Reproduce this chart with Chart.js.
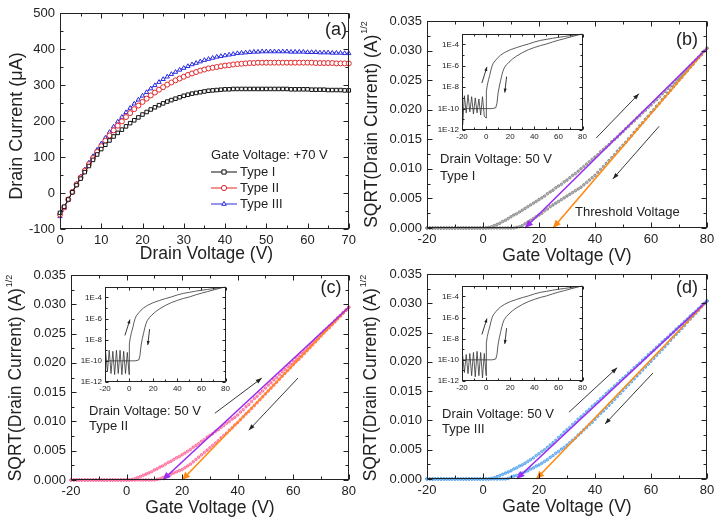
<!DOCTYPE html>
<html>
<head>
<meta charset="utf-8">
<script src="https://cdn.jsdelivr.net/npm/chart.js@4.4.0/dist/chart.umd.min.js"></script>
<style>
html, body { margin: 0; padding: 0; background: #fff; }
#wrap { position: relative; width: 719px; height: 522px; overflow: hidden; }
canvas { position: absolute; }
</style>
</head>
<body>
<div id="wrap">
  <canvas id="pa" width="360" height="270" style="left:0;top:0"></canvas>
  <canvas id="pb" width="359" height="270" style="left:360px;top:0"></canvas>
  <canvas id="pc" width="360" height="262" style="left:0;top:260px"></canvas>
  <canvas id="pd" width="359" height="262" style="left:360px;top:260px"></canvas>
  <canvas id="ib" width="163" height="120" style="left:426px;top:26px"></canvas>
  <canvas id="ic" width="163" height="119" style="left:69px;top:279px"></canvas>
  <canvas id="id" width="163" height="119" style="left:426px;top:278px"></canvas>
</div>
<script>
const FONT = '"Liberation Sans", Arial, sans-serif';
const INK = '#222';

// ---- (a) output curves, gate voltage +70 V ----
const drainV = [0,1,2,3,4,5,6,7,8,9,10,11,12,13,14,15,16,17,18,19,20,21,22,23,24,25,26,27,28,29,30,
  31,32,33,34,35,36,37,38,39,40,41,42,43,44,45,46,47,48,49,50,51,52,53,54,55,56,57,58,59,60,
  61,62,63,64,65,66,67,68,69,70];
const typeI = [-55,-38,-18,2,22,40,58,75,92,107,122,134,146,157,167,176,185,194,202,210,218,
  225,232,238,244,249,254,258,262,266,270,273,276,278,280,282,284,285,286,287,288,
  288,289,289,289,289,289,289,289,289,289,289,289,289,289,289,288,288,288,288,288,
  287,287,287,287,286,286,286,286,285,285];
const typeII = [-60,-40,-18,3,24,43,62,80,97,114,130,145,160,174,187,199,211,222,233,243,253,
  262,271,279,287,294,301,307,313,318,323,328,332,336,340,343,346,348,350,352,354,
  355,357,358,359,360,361,361,362,362,362,362,362,362,362,362,362,362,362,362,362,
  362,361,361,361,361,361,360,360,360,360];
const typeIII = [-65,-42,-19,3,25,45,65,84,102,120,137,153,169,184,198,211,224,236,248,259,270,
  280,290,299,308,316,323,330,336,342,347,352,357,361,365,369,372,375,378,380,382,
  384,386,388,389,390,391,392,392,393,393,393,393,393,393,393,392,392,392,392,391,
  391,391,390,390,390,389,389,389,388,388];

// ---- (b)-(d) transfer curves, SQRT(Id) vs gate voltage ----
const gateV = [-20,-19,-18,-17,-16,-15,-14,-13,-12,-11,-10,-9,-8,-7,-6,-5,-4,-3,-2,-1,0,
  1,2,3,4,5,6,7,8,9,10,11,12,13,14,15,16,17,18,19,20,21,22,23,24,25,26,27,28,29,30,
  31,32,33,34,35,36,37,38,39,40,41,42,43,44,45,46,47,48,49,50,51,52,53,54,55,56,57,58,59,60,
  61,62,63,64,65,66,67,68,69,70,71,72,73,74,75,76,77,78,79,80];
const fwdB = [0,0,0,0,0,0,0,0,0,0,0,0,0,0,0,0,0,0,0,0,0,
  0.0000,0.0001,0.0002,0.0004,0.0006,0.0008,0.0011,0.0013,0.0016,0.0019,
  0.0022,0.0024,0.0027,0.0030,0.0033,0.0036,0.0039,0.0042,0.0045,0.0048,
  0.0051,0.0054,0.0058,0.0061,0.0064,0.0068,0.0071,0.0074,0.0078,0.0081,
  0.0085,0.0089,0.0092,0.0096,0.0100,0.0104,0.0108,0.0112,0.0116,0.0120,
  0.0124,0.0129,0.0133,0.0137,0.0141,0.0146,0.0150,0.0154,0.0159,0.0163,
  0.0168,0.0172,0.0177,0.0181,0.0186,0.0190,0.0195,0.0199,0.0204,0.0208,
  0.0213,0.0217,0.0222,0.0227,0.0231,0.0236,0.0240,0.0245,0.0250,0.0254,
  0.0259,0.0264,0.0269,0.0274,0.0279,0.0284,0.0289,0.0294,0.0299,0.0304];
const revB = [0,0,0,0,0,0,0,0,0,0,0,0,0,0,0,0,0,0,0,0,0,
  0,0,0,0,0,0,0,0,0,0,
  0,0.0001,0.0002,0.0004,0.0007,0.0010,0.0013,0.0016,0.0019,0.0022,
  0.0025,0.0029,0.0032,0.0036,0.0039,0.0042,0.0045,0.0048,0.0051,0.0054,
  0.0057,0.0060,0.0063,0.0066,0.0069,0.0073,0.0077,0.0081,0.0085,0.0089,
  0.0094,0.0099,0.0104,0.0109,0.0114,0.0119,0.0124,0.0130,0.0135,0.0140,
  0.0145,0.0151,0.0156,0.0162,0.0167,0.0173,0.0178,0.0184,0.0189,0.0195,
  0.0200,0.0206,0.0211,0.0217,0.0222,0.0228,0.0233,0.0239,0.0244,0.0250,
  0.0255,0.0261,0.0266,0.0272,0.0277,0.0283,0.0288,0.0293,0.0299,0.0304];
const fwdC = [0,0,0,0,0,0,0,0,0,0,0,0,0,0,0,0,0,0,0,0,0,
  0,0.0001,0.0002,0.0004,0.0006,0.0008,0.0010,0.0012,0.0014,0.0017,
  0.0019,0.0022,0.0024,0.0027,0.0030,0.0032,0.0035,0.0038,0.0040,0.0043,
  0.0046,0.0049,0.0052,0.0056,0.0059,0.0062,0.0066,0.0069,0.0073,0.0076,
  0.0079,0.0083,0.0086,0.0090,0.0093,0.0097,0.0100,0.0104,0.0107,0.0111,
  0.0116,0.0120,0.0125,0.0129,0.0134,0.0139,0.0143,0.0148,0.0152,0.0157,
  0.0162,0.0166,0.0171,0.0175,0.0180,0.0185,0.0189,0.0194,0.0198,0.0203,
  0.0208,0.0212,0.0217,0.0221,0.0226,0.0231,0.0235,0.0240,0.0244,0.0249,
  0.0254,0.0258,0.0263,0.0267,0.0272,0.0277,0.0281,0.0286,0.0290,0.0295];
const revC = [0,0,0,0,0,0,0,0,0,0,0,0,0,0,0,0,0,0,0,0,0,
  0,0,0,0,0,0,0,0,0,0,
  0.0001,0.0002,0.0004,0.0006,0.0008,0.0010,0.0012,0.0014,0.0016,0.0018,
  0.0021,0.0024,0.0027,0.0031,0.0035,0.0039,0.0043,0.0047,0.0051,0.0055,
  0.0059,0.0063,0.0067,0.0072,0.0076,0.0080,0.0085,0.0089,0.0094,0.0098,
  0.0103,0.0108,0.0113,0.0117,0.0122,0.0127,0.0132,0.0137,0.0142,0.0147,
  0.0152,0.0157,0.0162,0.0167,0.0172,0.0177,0.0182,0.0187,0.0192,0.0197,
  0.0202,0.0206,0.0211,0.0216,0.0221,0.0226,0.0231,0.0236,0.0241,0.0246,
  0.0251,0.0256,0.0260,0.0265,0.0270,0.0275,0.0280,0.0285,0.0290,0.0295];
const fwdD = [0,0,0,0,0,0,0,0,0,0,0,0,0,0,0,0,0,0,0,0,0,
  0,0,0.0001,0.0002,0.0004,0.0006,0.0008,0.0010,0.0012,0.0014,
  0.0017,0.0019,0.0022,0.0024,0.0027,0.0030,0.0033,0.0036,0.0040,0.0043,
  0.0047,0.0050,0.0054,0.0058,0.0062,0.0066,0.0071,0.0075,0.0080,0.0084,
  0.0088,0.0093,0.0097,0.0102,0.0106,0.0110,0.0115,0.0119,0.0124,0.0128,
  0.0132,0.0137,0.0141,0.0146,0.0150,0.0154,0.0159,0.0163,0.0168,0.0172,
  0.0176,0.0181,0.0185,0.0190,0.0194,0.0198,0.0203,0.0207,0.0212,0.0216,
  0.0220,0.0225,0.0229,0.0234,0.0238,0.0242,0.0247,0.0251,0.0256,0.0260,
  0.0264,0.0269,0.0273,0.0278,0.0282,0.0286,0.0291,0.0295,0.0300,0.0304];
const revD = [0,0,0,0,0,0,0,0,0,0,0,0,0,0,0,0,0,0,0,0,0,
  0,0,0,0,0,0,0,0,0.0001,0.0003,
  0.0005,0.0006,0.0008,0.0010,0.0012,0.0014,0.0017,0.0019,0.0022,0.0024,
  0.0027,0.0030,0.0033,0.0037,0.0040,0.0044,0.0047,0.0051,0.0054,0.0058,
  0.0062,0.0066,0.0070,0.0075,0.0079,0.0084,0.0088,0.0093,0.0097,0.0102,
  0.0107,0.0112,0.0116,0.0121,0.0126,0.0131,0.0136,0.0141,0.0146,0.0151,
  0.0156,0.0161,0.0166,0.0171,0.0176,0.0181,0.0186,0.0191,0.0196,0.0201,
  0.0206,0.0211,0.0216,0.0221,0.0226,0.0231,0.0237,0.0242,0.0247,0.0252,
  0.0257,0.0262,0.0268,0.0273,0.0278,0.0283,0.0288,0.0294,0.0299,0.0304];

// linear fits used for the threshold voltage: [gate V, sqrt(Id)] end points
const fitUpB = [[80, 0.0304], [15, 0]];
const fitDownB = [[80, 0.0304], [25, 0]];
const fitUpC = [[80, 0.0295], [13, 0]];
const fitDownC = [[80, 0.0295], [20, 0]];
const fitUpD = [[80, 0.0304], [12, 0]];
const fitDownD = [[80, 0.0303], [19, 0]];

// sweep direction arrows: [x1, y1, x2, y2] in data units
const sweepArrowsB = [[40.4, 0.0152, 55.7, 0.0227], [62.9, 0.0172, 46.4, 0.0083]];
const sweepArrowsC = [[31.8, 0.0114, 48.7, 0.0174], [61.7, 0.0174, 44.0, 0.0085]];
const sweepArrowsD = [[30.7, 0.0114, 47.9, 0.0190], [60.7, 0.0181, 43.6, 0.0094]];

// ---- insets: log(Id) vs gate voltage ----
const noiseV = [-20,-19.5,-18,-16.5,-15,-13.5,-12,-10.5,-9,-7.5,-6,-4.5,-3,-1.5,0];
const noiseB = [1e-10,3.2e-12,1.6e-9,4e-11,2e-9,5e-11,1.3e-9,3.2e-11,1e-9,4e-11,8e-10,2.5e-11,1.3e-9,2e-11,1.3e-11];
const noiseC = [1e-10,6.3e-10,1e-11,1e-9,6.3e-12,8e-10,5e-12,1e-9,6.3e-12,1e-9,5e-12,8e-10,6.3e-12,6.3e-10,5e-12];
const noiseD = [1e-10,2.5e-10,6.3e-12,3.2e-10,5e-12,4e-10,3.2e-12,5e-10,2.5e-12,6.3e-10,3.2e-12,5e-10,2e-12,4e-10,3.2e-12];
const riseV = [0.2,1,2,3,4,5,6,8,10,12,15,20,25,30,35,40,45,50,55,60,65,70,75,80];
const riseI = [4e-9,1.6e-8,5e-8,1.3e-7,4e-7,1e-6,1.8e-6,3.5e-6,6.3e-6,1e-5,1.7e-5,3.2e-5,
  5e-5,7.6e-5,1.1e-4,1.7e-4,2.4e-4,3e-4,3.8e-4,4.7e-4,5.6e-4,6.8e-4,8.1e-4,1e-3];
const backV = [-20,0,5,8,9,10,11,12,13,14,15,17,19,22,25,30,35,40,45,50,55,60,65,70,75,80];
const backI = [1e-10,1e-10,1e-10,1.2e-10,3.2e-10,3.2e-9,1.3e-8,4e-8,1.3e-7,3.2e-7,6.3e-7,
  1.3e-6,2.2e-6,4.5e-6,7.9e-6,1.7e-5,3.2e-5,5.2e-5,7.9e-5,1.1e-4,1.7e-4,2.5e-4,3.5e-4,5e-4,7.1e-4,1e-3];
const insetArrows = [[-3.5, 2.5e-8, 0.7, 8e-7], [17, 1e-7, 15.5, 3.2e-9]];

function arrowHead(ctx, x1, y1, x2, y2, len, half, color) {
  const a = Math.atan2(y2 - y1, x2 - x1);
  const bx = x2 - len * Math.cos(a), by = y2 - len * Math.sin(a);
  ctx.fillStyle = color;
  ctx.beginPath();
  ctx.moveTo(x2, y2);
  ctx.lineTo(bx + half * Math.sin(a), by - half * Math.cos(a));
  ctx.lineTo(bx - half * Math.sin(a), by + half * Math.cos(a));
  ctx.closePath();
  ctx.fill();
}

// tick marks list: [value, length]
function marks(from, to, step, every, big, small) {
  const out = [];
  let i = 0;
  for (let v = from; v <= to + step * 1e-6; v += step, i++) out.push([v, i % every === 0 ? big : small]);
  return out;
}

function drawMarker(ctx, style, x, y, r) {
  ctx.beginPath();
  if (style === 'rect') ctx.rect(x - r * 0.8, y - r * 0.8, r * 1.6, r * 1.6);
  else if (style === 'triangle') {
    ctx.moveTo(x, y - r); ctx.lineTo(x - r * 0.87, y + r * 0.5); ctx.lineTo(x + r * 0.87, y + r * 0.5); ctx.closePath();
  } else ctx.arc(x, y, r, 0, Math.PI * 2);
  ctx.fill(); ctx.stroke();
}

const decor = {
  id: 'decor',
  afterDatasetsDraw(chart) {
    const o = chart.options.plugins.decor;
    const ctx = chart.ctx, xs = chart.scales.x, ys = chart.scales.y;
    ctx.save();
    chart.data.datasets.forEach((ds, i) => {
      if (!ds.arrowHead) return;
      const pts = chart.getDatasetMeta(i).data;
      const p = pts[pts.length - 1], q = pts[0];
      arrowHead(ctx, q.x, q.y, p.x, p.y, 8, 3.5, ds.borderColor);
    });
    (o.arrows || []).forEach(r => {
      const x1 = xs.getPixelForValue(r[0]), y1 = ys.getPixelForValue(r[1]);
      const x2 = xs.getPixelForValue(r[2]), y2 = ys.getPixelForValue(r[3]);
      ctx.strokeStyle = INK; ctx.lineWidth = 0.9;
      ctx.beginPath(); ctx.moveTo(x1, y1); ctx.lineTo(x2, y2); ctx.stroke();
      arrowHead(ctx, x1, y1, x2, y2, o.headLen || 6, o.headHalf || 2.2, INK);
    });
    ctx.restore();
  },
  afterDraw(chart) {
    const o = chart.options.plugins.decor;
    const ctx = chart.ctx, a = chart.chartArea, xs = chart.scales.x, ys = chart.scales.y;
    ctx.save();
    // box and inward ticks on all four sides
    const L = Math.round(a.left) + 0.5, R = Math.round(a.right) - 0.5;
    const T = Math.round(a.top) + 0.5, B = Math.round(a.bottom) - 0.5;
    ctx.strokeStyle = INK; ctx.lineWidth = 1;
    ctx.strokeRect(L, T, R - L, B - T);
    ctx.beginPath();
    o.xMarks.forEach(([v, len]) => {
      const p = Math.round(xs.getPixelForValue(v)) + 0.5;
      ctx.moveTo(p, B); ctx.lineTo(p, B - len);
      ctx.moveTo(p, T); ctx.lineTo(p, T + len);
    });
    o.yMarks.forEach(([v, len]) => {
      const p = Math.round(ys.getPixelForValue(v)) + 0.5;
      ctx.moveTo(L, p); ctx.lineTo(L + len, p);
      ctx.moveTo(R, p); ctx.lineTo(R - len, p);
    });
    ctx.stroke();
    // texts
    ctx.fillStyle = INK;
    ctx.textBaseline = 'middle';
    (o.texts || []).forEach(t => {
      ctx.font = t.size + 'px ' + FONT;
      ctx.textAlign = t.align || 'left';
      ctx.fillText(t.t, t.x, t.y);
    });
    if (o.yTitle) {
      const yt = o.yTitle;
      ctx.save();
      ctx.translate(yt.x, yt.y);
      ctx.rotate(-Math.PI / 2);
      ctx.font = yt.size + 'px ' + FONT;
      const w1 = ctx.measureText(yt.t).width;
      let w2 = 0;
      if (yt.sup) { ctx.font = '9px ' + FONT; w2 = ctx.measureText(yt.sup).width + 1; }
      const start = -(w1 + w2) / 2;
      ctx.textAlign = 'left';
      ctx.font = yt.size + 'px ' + FONT;
      ctx.fillText(yt.t, start, 0);
      if (yt.sup) { ctx.font = '9px ' + FONT; ctx.fillText(yt.sup, start + w1 + 1, -7); }
      ctx.restore();
    }
    if (o.legend) {
      const lg = o.legend;
      chart.data.datasets.forEach((ds, i) => {
        const y = lg.y + i * lg.gap;
        ctx.strokeStyle = ds.borderColor; ctx.fillStyle = '#fff'; ctx.lineWidth = 1;
        ctx.beginPath(); ctx.moveTo(lg.x, y); ctx.lineTo(lg.x + 26, y); ctx.stroke();
        drawMarker(ctx, ds.pointStyle, lg.x + 13, y, 2.6);
        ctx.fillStyle = INK; ctx.font = '13px ' + FONT; ctx.textAlign = 'left';
        ctx.fillText(ds.label, lg.x + 29, y);
      });
    }
    ctx.restore();
  }
};
Chart.register(decor);

function axisOpts(min, max, step, size, extent, pad, fmt) {
  return {
    type: 'linear', min: min, max: max,
    grid: { display: false, drawTicks: false }, border: { display: false },
    ticks: { stepSize: step, padding: pad, color: INK, font: { family: FONT, size: size },
      maxRotation: 0, autoSkip: false, callback: fmt || (v => String(v)) },
    afterFit: s => { if (s.isHorizontal()) s.height = extent; else s.width = extent; }
  };
}

function panelOptions(p) {
  return {
    responsive: false, animation: false, devicePixelRatio: 1,
    layout: { padding: { top: p.top, right: p.right, left: 0, bottom: 0 } },
    plugins: { legend: { display: false }, tooltip: { enabled: false }, decor: p.decor },
    scales: { x: p.x, y: p.y }
  };
}

const pts = (xs, ys) => xs.map((v, i) => ({ x: v, y: ys[i] }));
const fmt3 = v => v.toFixed(3);

// ---- panel (a) ----
function outputSet(label, vals, color, style) {
  return { label: label, data: pts(drainV, vals), showLine: true, borderColor: color, borderWidth: 1,
    pointStyle: style, pointRadius: 2.5, pointBorderWidth: 1, pointBackgroundColor: '#fff',
    pointBorderColor: color, clip: false };
}
new Chart(document.getElementById('pa'), {
  type: 'scatter',
  data: { datasets: [
    outputSet('Type I', typeI, '#111', 'rect'),
    outputSet('Type II', typeII, '#e3262a', 'circle'),
    outputSet('Type III', typeIII, '#2a2ae0', 'triangle')
  ] },
  options: panelOptions({
    top: 13, right: 7,
    x: axisOpts(0, 70, 10, 13, 41, 4),
    y: axisOpts(-100, 500, 100, 13, 60, 5),
    decor: {
      xMarks: marks(0, 70, 5, 2, 5, 3), yMarks: marks(-100, 500, 50, 2, 5, 3),
      texts: [
        { t: '(a)', x: 336, y: 30, size: 18, align: 'center' },
        { t: 'Drain Voltage (V)', x: 206.5, y: 254, size: 17.5, align: 'center' },
        { t: 'Gate Voltage: +70 V', x: 211, y: 155, size: 13 }
      ],
      yTitle: { t: 'Drain Current (\u03bcA)', x: 17.5, y: 126, size: 18 },
      legend: { x: 211, y: 172, gap: 16 }
    }
  })
});

// ---- panels (b)-(d) ----
function transferChart(id, fwd, rev, fitUp, fitDown, color, fill, p) {
  const fitSet = (line, c) => ({ data: line.map(q => ({ x: q[0], y: q[1] })), showLine: true,
    borderColor: c, borderWidth: 1.6, pointRadius: 0, arrowHead: true, clip: false });
  const dotSet = vals => ({ data: pts(gateV, vals), showLine: false, pointStyle: 'circle',
    pointRadius: 1.3, pointBorderWidth: 0.7, pointBorderColor: color, pointBackgroundColor: fill, clip: false });
  new Chart(document.getElementById(id), {
    type: 'scatter',
    data: { datasets: [fitSet(fitUp, '#9b2cf0'), fitSet(fitDown, '#ff8a10'), dotSet(fwd), dotSet(rev)] },
    options: panelOptions({
      top: p.top, right: p.right,
      x: axisOpts(-20, 80, 20, 13, p.xh, 4),
      y: axisOpts(0, 0.035, 0.005, 13, p.yw, 5, fmt3),
      decor: {
        xMarks: marks(-20, 80, 10, 2, 5, 3), yMarks: marks(0, 0.035, 0.0025, 2, 5, 3),
        arrows: p.arrows,
        texts: p.texts,
        yTitle: { t: 'SQRT(Drain Current) (A)', sup: '1/2', x: p.ytx, y: p.yty, size: 17.5 }
      }
    })
  });
}

transferChart('pb', fwdB, revB, fitUpB, fitDownB, '#777777', '#b4b4b4', {
  top: 21, right: 12, xh: 42, yw: 67, ytx: 12, yty: 124.5, arrows: sweepArrowsB,
  texts: [
    { t: '(b)', x: 327, y: 40, size: 18, align: 'center' },
    { t: 'Gate Voltage (V)', x: 207, y: 256, size: 17.5, align: 'center' },
    { t: 'Drain Voltage: 50 V', x: 80, y: 159, size: 13 },
    { t: 'Type I', x: 80, y: 176, size: 13 },
    { t: 'Threshold Voltage', x: 215, y: 212, size: 13 }
  ]
});
transferChart('pc', fwdC, revC, fitUpC, fitDownC, '#ff4a84', '#ffa3c0', {
  top: 15, right: 11, xh: 42, yw: 71, ytx: 16.5, yty: 118, arrows: sweepArrowsC,
  texts: [
    { t: '(c)', x: 331, y: 28, size: 18, align: 'center' },
    { t: 'Gate Voltage (V)', x: 210, y: 248, size: 17.5, align: 'center' },
    { t: 'Drain Voltage: 50 V', x: 89, y: 151, size: 13 },
    { t: 'Type II', x: 89, y: 166, size: 13 }
  ]
});
transferChart('pd', fwdD, revD, fitUpD, fitDownD, '#3390ea', '#96c8f6', {
  top: 14, right: 12, xh: 43, yw: 67, ytx: 11, yty: 118, arrows: sweepArrowsD,
  texts: [
    { t: '(d)', x: 327, y: 28, size: 18, align: 'center' },
    { t: 'Gate Voltage (V)', x: 207, y: 247.5, size: 17.5, align: 'center' },
    { t: 'Drain Voltage: 50 V', x: 82, y: 154, size: 13 },
    { t: 'Type III', x: 82, y: 169, size: 13 }
  ]
});

// ---- insets ----
function insetChart(id, noise) {
  const fwd = pts(noiseV, noise).concat(pts(riseV, riseI));
  const line = d => ({ data: d, showLine: true, borderColor: '#333', borderWidth: 0.8, pointRadius: 0 });
  const y = axisOpts(1e-12, 1e-3, 1, 8, 36, 3);
  y.type = 'logarithmic';
  y.ticks.callback = v => '1E' + Math.round(Math.log10(v));
  y.afterBuildTicks = s => { s.ticks = [1e-12, 1e-10, 1e-8, 1e-6, 1e-4].map(v => ({ value: v })); };
  new Chart(document.getElementById(id), {
    type: 'scatter',
    data: { datasets: [line(fwd), line(pts(backV, backI))] },
    options: panelOptions({
      top: 6, right: 6,
      x: axisOpts(-20, 80, 20, 8, 16, 2),
      y: y,
      decor: {
        xMarks: marks(-20, 80, 10, 2, 3, 2),
        yMarks: [[1e-12, 3], [1e-11, 2], [1e-10, 3], [1e-9, 2], [1e-8, 3], [1e-7, 2], [1e-6, 3], [1e-5, 2], [1e-4, 3]],
        arrows: insetArrows, headLen: 4, headHalf: 1.6
      }
    })
  });
}
insetChart('ib', noiseB);
insetChart('ic', noiseC);
insetChart('id', noiseD);
</script>
</body>
</html>
